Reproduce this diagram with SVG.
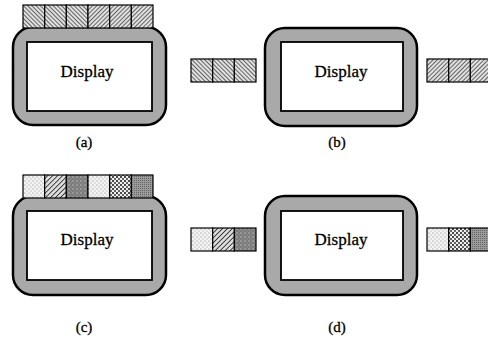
<svg xmlns="http://www.w3.org/2000/svg" width="488" height="345" viewBox="0 0 488 345">
<defs>
<pattern id="hl" width="3" height="3" patternUnits="userSpaceOnUse" patternTransform="rotate(-45)">
<rect width="3" height="3" fill="#e0e0e0"/>
<line x1="0" y1="0" x2="0" y2="3" stroke="#222" stroke-width="1.3"/>
</pattern>
<pattern id="hr" width="3" height="3" patternUnits="userSpaceOnUse" patternTransform="rotate(45)">
<rect width="3" height="3" fill="#e0e0e0"/>
<line x1="0" y1="0" x2="0" y2="3" stroke="#222" stroke-width="1.3"/>
</pattern>
<pattern id="dl" width="4" height="4" patternUnits="userSpaceOnUse">
<rect width="4" height="4" fill="#f4f4f4"/>
<circle cx="1" cy="1" r="0.6" fill="#777"/>
<circle cx="3" cy="3" r="0.6" fill="#999"/>
</pattern>
<pattern id="dg" width="3.5" height="3.5" patternUnits="userSpaceOnUse" patternTransform="rotate(45)">
<rect width="3.5" height="3.5" fill="#ddd"/>
<line x1="0" y1="0" x2="0" y2="3.5" stroke="#222" stroke-width="1.6"/>
</pattern>
<pattern id="gd" width="4" height="4" patternUnits="userSpaceOnUse">
<rect width="4" height="4" fill="#7c7c7c"/>
<circle cx="1" cy="1" r="0.7" fill="#c8c8c8"/>
<circle cx="3" cy="3" r="0.5" fill="#aaa"/>
</pattern>
<pattern id="cd" width="4" height="4" patternUnits="userSpaceOnUse">
<rect width="4" height="4" fill="#eee"/>
<circle cx="1" cy="1" r="1" fill="#111"/>
<circle cx="3" cy="3" r="0.9" fill="#222"/>
</pattern>
<pattern id="gf" width="2" height="2" patternUnits="userSpaceOnUse">
<rect width="2" height="2" fill="#9a9a9a"/>
<rect width="1" height="1" fill="#666"/>
</pattern>
</defs>
<style>
.outer{fill:#a9a9a9;stroke:#000;stroke-width:2.5}
.inner{fill:#fff;stroke:#000;stroke-width:1.8}
.cell{stroke:#000;stroke-width:1.2}
.disp{font-family:"Liberation Serif",serif;font-size:17px;text-anchor:middle;fill:#000;stroke:#000;stroke-width:0.3}
.lab{font-family:"Liberation Serif",serif;font-size:15px;text-anchor:middle;fill:#000;stroke:#000;stroke-width:0.3}
</style>
<g id="connectors"/>
<g id="panel-a">
<rect class="outer" x="13" y="27" width="153" height="98" rx="20"/>
<rect class="inner" x="27" y="42" width="125" height="69"/>
<text class="disp" x="87" y="77">Display</text>
<rect class="cell" x="23" y="5" width="21.7" height="23" fill="url(#hl)"/>
<rect class="cell" x="44.7" y="5" width="21.7" height="23" fill="url(#hl)"/>
<rect class="cell" x="66.3" y="5" width="21.7" height="23" fill="url(#hl)"/>
<rect class="cell" x="88" y="5" width="21.7" height="23" fill="url(#hr)"/>
<rect class="cell" x="109.7" y="5" width="21.7" height="23" fill="url(#hr)"/>
<rect class="cell" x="131.3" y="5" width="21.7" height="23" fill="url(#hr)"/>
<text class="lab" x="84" y="147">(a)</text>
</g>
<g id="panel-b">
<rect class="outer" x="265" y="28" width="152" height="98" rx="20"/>
<rect class="inner" x="281" y="42" width="122" height="69"/>
<text class="disp" x="341" y="77">Display</text>
<rect class="cell" x="191" y="59" width="21.7" height="23" fill="url(#hl)"/>
<rect class="cell" x="212.7" y="59" width="21.7" height="23" fill="url(#hl)"/>
<rect class="cell" x="234.3" y="59" width="21.7" height="23" fill="url(#hl)"/>
<rect class="cell" x="427" y="59" width="21.7" height="23" fill="url(#hr)"/>
<rect class="cell" x="448.7" y="59" width="21.7" height="23" fill="url(#hr)"/>
<rect class="cell" x="470.3" y="59" width="21.7" height="23" fill="url(#hr)"/>
<text class="lab" x="337" y="147">(b)</text>
</g>
<g id="panel-c">
<rect class="outer" x="13" y="196" width="153" height="99" rx="20"/>
<rect class="inner" x="27" y="211" width="125" height="69"/>
<text class="disp" x="87" y="245">Display</text>
<rect class="cell" x="23" y="175" width="21.7" height="23" fill="url(#dl)"/>
<rect class="cell" x="44.7" y="175" width="21.7" height="23" fill="url(#dg)"/>
<rect class="cell" x="66.3" y="175" width="21.7" height="23" fill="url(#gd)"/>
<rect class="cell" x="88" y="175" width="21.7" height="23" fill="url(#dl)"/>
<rect class="cell" x="109.7" y="175" width="21.7" height="23" fill="url(#cd)"/>
<rect class="cell" x="131.3" y="175" width="21.7" height="23" fill="url(#gf)"/>
<text class="lab" x="84" y="332">(c)</text>
</g>
<g id="panel-d">
<rect class="outer" x="265" y="196" width="152" height="99" rx="20"/>
<rect class="inner" x="281" y="211" width="122" height="69"/>
<text class="disp" x="341" y="245">Display</text>
<rect class="cell" x="191" y="228" width="21.7" height="23" fill="url(#dl)"/>
<rect class="cell" x="212.7" y="228" width="21.7" height="23" fill="url(#dg)"/>
<rect class="cell" x="234.3" y="228" width="21.7" height="23" fill="url(#gd)"/>
<rect class="cell" x="427" y="228" width="21.7" height="23" fill="url(#dl)"/>
<rect class="cell" x="448.7" y="228" width="21.7" height="23" fill="url(#cd)"/>
<rect class="cell" x="470.3" y="228" width="21.7" height="23" fill="url(#gf)"/>
<text class="lab" x="337" y="332">(d)</text>
</g>
</svg>
